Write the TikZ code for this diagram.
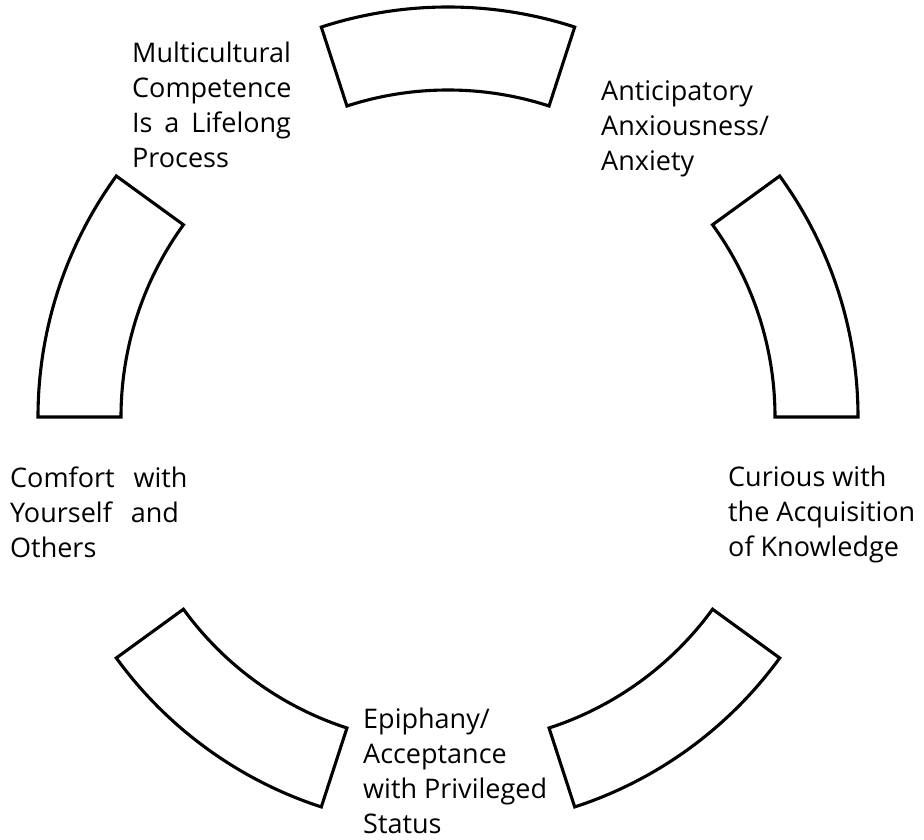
\documentclass[tikz,border=0pt]{standalone}
\usepackage{fontspec}
\setmainfont{Open Sans}
\newlength{\linelen}
\newcommand{\spreadline}[2]{\settowidth{\linelen}{#1}\makebox[\linelen][s]{#2}}
\begin{document}
\begin{tikzpicture}[x=1pt,y=1pt,
        stage/.style={draw, line width=3.1pt, line join=miter},
        phase/.style={anchor=base west, align=left, inner sep=0pt,
                      font=\fontsize{27}{35}\selectfont}]
        \useasboundingbox (0,0) rectangle (924,839);
        \coordinate (c) at (448,422);
        % the five arc segments
        \foreach \a [evaluate=\a as \b using \a+36] in {0,72,144,216,288}
            \draw[stage, shift={(c)}] (\a:410pt) arc[start angle=\a, end angle=\b, radius=410pt]
                -- (\b:327pt) arc[start angle=\b, end angle=\a, radius=327pt] -- cycle;
        % labels (placed by the baseline of their last line)
        \node[phase] (lifelong) at (132,671) {Multicultural\\Competence\\\spreadline{Multicultural}{Is a Lifelong}\\Process};
        \node[phase] (anxiety) at (601,668) {Anticipatory\\Anxiousness/\\Anxiety};
        \node[phase] (comfort) at (10,281) {Comfort\hspace{0.7em}with\\Yourself\hspace{0.7em}and\\Others};
        \node[phase] (curious) at (728,282) {Curious with\\the Acquisition\\of Knowledge};
        \node[phase] (epiphany) at (363,6) {Epiphany/\\Acceptance\\with Privileged\\Status};
\end{tikzpicture}
\end{document}
